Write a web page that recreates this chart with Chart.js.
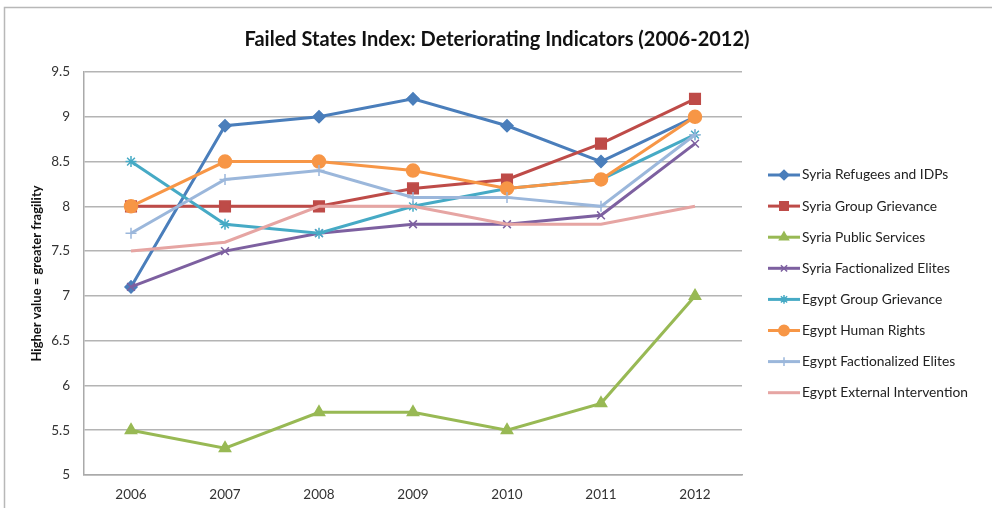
<!DOCTYPE html>
<html>
<head>
<meta charset="utf-8">
<script src="https://cdn.jsdelivr.net/npm/chart.js@4.4.1/dist/chart.umd.min.js"></script>
<style>
  html, body { margin: 0; padding: 0; background: #fff; }
  #wrap { width: 992px; height: 508px; }
</style>
</head>
<body>
<div id="wrap"><canvas id="fsiChart" width="992" height="508"></canvas></div>
<script>
// Years on the x axis
const years = ['2006', '2007', '2008', '2009', '2010', '2011', '2012'];

// Indicator values
const syriaRefugees = [7.1, 8.9, 9.0, 9.2, 8.9, 8.5, 9.0];
const syriaGroupGrievance = [8.0, 8.0, 8.0, 8.2, 8.3, 8.7, 9.2];
const syriaPublicServices = [5.5, 5.3, 5.7, 5.7, 5.5, 5.8, 7.0];
const syriaFactionalized = [7.1, 7.5, 7.7, 7.8, 7.8, 7.9, 8.7];
const egyptGroupGrievance = [8.5, 7.8, 7.7, 8.0, 8.2, 8.3, 8.8];
const egyptHumanRights = [8.0, 8.5, 8.5, 8.4, 8.2, 8.3, 9.0];
const egyptFactionalized = [7.7, 8.3, 8.4, 8.1, 8.1, 8.0, 8.8];
const egyptExternal = [7.5, 7.6, 8.0, 8.0, 7.8, 7.8, 8.0];

// y axis range
const yMin = 5;
const yMax = 9.5;
const yStep = 0.5;

const chartTitle = 'Failed States Index: Deteriorating Indicators (2006-2012)';
const FONT = 'Lato, "Open Sans", sans-serif';

function series(label, data, color, pointStyle, radius, idx) {
    return {
        label: label,
        data: data,
        borderColor: color,
        backgroundColor: color,
        pointBackgroundColor: color,
        pointBorderColor: color,
        pointStyle: pointStyle,
        pointRadius: radius,
        pointBorderWidth: 1.5,
        borderWidth: 3,
        tension: 0,
        order: 7 - idx
    };
}

const datasets = [
    series('Syria Refugees and IDPs', syriaRefugees, '#4a7ebb', 'rectRot', 6, 0),
    series('Syria Group Grievance', syriaGroupGrievance, '#be4b48', 'rect', 7.5, 1),
    series('Syria Public Services', syriaPublicServices, '#98b954', 'triangle', 6.5, 2),
    series('Syria Factionalized Elites', syriaFactionalized, '#7d60a0', 'crossRot', 5.5, 3),
    series('Egypt Group Grievance', egyptGroupGrievance, '#46aac5', 'star', 5.5, 4),
    series('Egypt Human Rights', egyptHumanRights, '#f79646', 'circle', 6.5, 5),
    series('Egypt Factionalized Elites', egyptFactionalized, '#9bb7db', 'cross', 5.5, 6),
    series('Egypt External Intervention', egyptExternal, '#e6a5a3', false, 0, 7)
];

// Outer frame and title of the chart object
const framePlugin = {
    id: 'frame',
    beforeDraw(chart) {
        const ctx = chart.ctx;
        ctx.save();
        ctx.fillStyle = '#fff';
        ctx.fillRect(0, 0, chart.width, chart.height);
        ctx.strokeStyle = '#b8b8b8';
        ctx.lineWidth = 1.5;
        ctx.strokeRect(4.5, 7.5, chart.width + 10, chart.height + 10);
        ctx.fillStyle = '#111';
        ctx.font = 'bold 20px ' + FONT;
        ctx.textAlign = 'center';
        ctx.textBaseline = 'middle';
        ctx.fillText(chartTitle, 497, 40);
        ctx.restore();
    }
};

// Excel style legend: line with marker in the middle
const sideLegend = {
    id: 'sideLegend',
    afterDraw(chart) {
        const ctx = chart.ctx;
        const x0 = 768, x1 = 800, top = 175, gap = 31.1;
        ctx.save();
        chart.data.datasets.forEach((ds, i) => {
            const y = top + i * gap;
            ctx.strokeStyle = ds.borderColor;
            ctx.lineWidth = 3;
            ctx.beginPath();
            ctx.moveTo(x0, y);
            ctx.lineTo(x1, y);
            ctx.stroke();
            if (ds.pointStyle) {
                ctx.fillStyle = ds.pointBackgroundColor;
                ctx.strokeStyle = ds.pointBorderColor;
                ctx.lineWidth = ds.pointBorderWidth;
                Chart.helpers.drawPoint(ctx, {
                    pointStyle: ds.pointStyle,
                    radius: ds.pointRadius * 0.8,
                    rotation: 0,
                    borderWidth: ds.pointBorderWidth
                }, (x0 + x1) / 2, y);
            }
            ctx.fillStyle = '#222';
            ctx.font = '13.8px ' + FONT;
            ctx.textAlign = 'left';
            ctx.textBaseline = 'middle';
            ctx.fillText(ds.label, x1 + 2, y);
        });
        ctx.restore();
    }
};

new Chart(document.getElementById('fsiChart'), {
    type: 'line',
    data: { labels: years, datasets: datasets },
    plugins: [framePlugin, sideLegend],
    options: {
        responsive: false,
        animation: false,
        layout: { padding: { left: 0, right: 250, top: 72, bottom: 0 } },
        plugins: {
            legend: { display: false },
            tooltip: { enabled: false },
            title: { display: false }
        },
        scales: {
            x: {
                offset: true,
                grid: { display: false, drawTicks: false },
                border: { display: true, color: '#aaa', width: 1.5 },
                ticks: { color: '#333', font: { family: FONT, size: 13.5 }, padding: 12 },
                afterFit(scale) { scale.height = 33; }
            },
            y: {
                min: yMin,
                max: yMax,
                grid: { color: '#b4b4b4', lineWidth: 1.5, drawTicks: false },
                border: { display: true, color: '#aaa', width: 1.5 },
                ticks: {
                    stepSize: yStep,
                    color: '#333',
                    font: { family: FONT, size: 13.5 },
                    padding: 14,
                    callback: v => String(v)
                },
                title: {
                    display: true,
                    text: 'Higher value = greater fragility',
                    color: '#111',
                    font: { family: FONT, size: 13, weight: 'bold' },
                    padding: { top: 29, bottom: 0 }
                },
                afterFit(scale) { scale.width = 84; }
            }
        }
    }
});
</script>
</body>
</html>
